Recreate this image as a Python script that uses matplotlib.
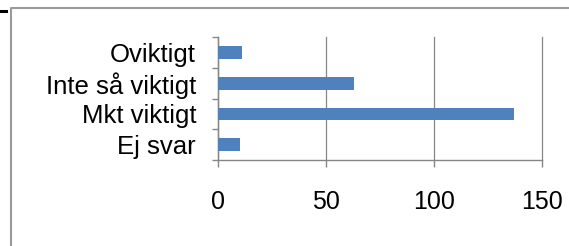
import matplotlib

matplotlib.use("Agg")
import matplotlib.pyplot as plt
from matplotlib.lines import Line2D

# Categories listed bottom -> top, as Excel draws them
CATEGORIES = ["Ej svar", "Mkt viktigt", "Inte så viktigt", "Oviktigt"]
VALUES = [10, 137, 63, 11]
X_TICKS = [0, 50, 100, 150]

BAR_COLOR = "#4f81bd"
AXIS_GRAY = "#868686"

plt.rcParams["font.family"] = ["Liberation Sans", "DejaVu Sans"]

W, H = 569, 246
fig = plt.figure(figsize=(W / 100, H / 100), dpi=100)
ax = fig.add_axes([218.3 / W, 86 / H, 324 / W, 122.7 / H])

ypos = list(range(len(CATEGORIES)))
ax.barh(ypos, VALUES, height=0.42, color=BAR_COLOR, zorder=3)

ax.set_xlim(0, 150)
ax.set_ylim(-0.5, len(CATEGORIES) - 0.5)

ax.set_xticks(X_TICKS)
ax.set_xticklabels([str(v) for v in X_TICKS], fontsize=18)
ax.set_yticks(ypos)
ax.set_yticklabels(CATEGORIES, fontsize=18.5)
ax.set_yticks([y - 0.5 for y in range(len(CATEGORIES) + 1)], minor=True)

ax.tick_params(axis="y", which="major", length=0, pad=16)
ax.tick_params(axis="y", which="minor", length=4.5, width=1, color=AXIS_GRAY)
ax.tick_params(axis="x", which="major", length=5, width=1, color=AXIS_GRAY, pad=16.5)

ax.grid(True, axis="x", color=AXIS_GRAY, linewidth=0.9, zorder=0)
for gl in ax.get_xgridlines():
    gl.set_clip_on(False)
ax.set_axisbelow(True)
for side in ("top", "right"):
    ax.spines[side].set_visible(False)
for side in ("left", "bottom"):
    ax.spines[side].set_color(AXIS_GRAY)
    ax.spines[side].set_linewidth(1)

# chart-area border (runs off the right and bottom edges) and corner mark
bx, by = 10.5 / W, 1 - 7.5 / H
fig.add_artist(Line2D([bx, bx, 1.0], [0, by, by], transform=fig.transFigure,
                      color="#9a9a9a", linewidth=1.5))
fig.add_artist(Line2D([0, 6 / W], [1 - 10.5 / H, 1 - 10.5 / H],
                      transform=fig.transFigure, color="black", linewidth=2.2))

fig.savefig("out.png", dpi=100)
